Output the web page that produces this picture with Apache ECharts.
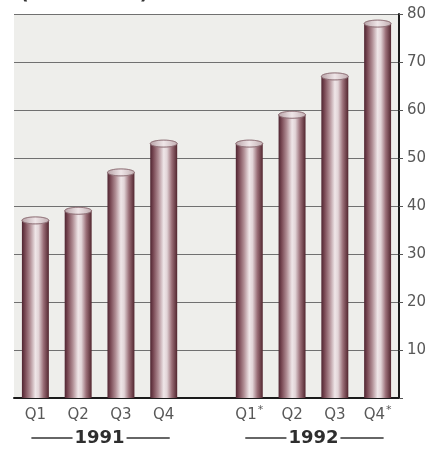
<!DOCTYPE html>
<html>
<head>
<meta charset="utf-8">
<style>
  html, body { margin: 0; padding: 0; background: #ffffff; }
  #chart { width: 440px; height: 453px; }
</style>
<script src="https://cdn.jsdelivr.net/npm/echarts@6/dist/echarts.min.js"></script>
</head>
<body>
<div id="chart"></div>
<script>
// Quarterly figures, 1991 and 1992 (in millions); the empty slot separates the years
var categories = ['Q1', 'Q2', 'Q3', 'Q4', '', 'Q1*', 'Q2', 'Q3', 'Q4*'];
var values = [37, 39, 47, 53, null, 53, 59, 67, 78];
var yearLabels = ['1991', '1992'];
var yearSpans = [[0, 3], [5, 8]];
var yTicks = [10, 20, 30, 40, 50, 60, 70, 80];

var chart = echarts.init(document.getElementById('chart'), null, { renderer: 'canvas' });

var textColor = '#585858';
var fontFam = '"DejaVu Sans", "Noto Sans", sans-serif';

// Cylinder body: dark maroon edges with a pale highlight just right of centre
var bodyGradient = new echarts.graphic.LinearGradient(0, 0, 1, 0, [
  { offset: 0.00, color: '#4e2430' },
  { offset: 0.12, color: '#7a4a55' },
  { offset: 0.30, color: '#b08d94' },
  { offset: 0.50, color: '#efe6e8' },
  { offset: 0.62, color: '#e2d4d7' },
  { offset: 0.80, color: '#9a6e77' },
  { offset: 1.00, color: '#52262f' }
]);
var capGradient = new echarts.graphic.LinearGradient(0, 0, 1, 0, [
  { offset: 0.0, color: '#b8a2a7' },
  { offset: 0.5, color: '#efe6e8' },
  { offset: 1.0, color: '#c2aeb2' }
]);

var seriesData = [];
values.forEach(function (v, i) {
  if (v !== null) seriesData.push([i, v]);
});

function renderCylinder(params, api) {
  var idx = api.value(0);
  var val = api.value(1);
  var top = api.coord([idx, val]);
  var bottom = api.coord([idx, 0]);
  var w = api.size([1, 0])[0] * 0.63;
  var x = top[0] - w / 2;
  var ry = 3.5;
  return {
    type: 'group',
    children: [
      {
        type: 'rect',
        shape: { x: x, y: top[1], width: w, height: bottom[1] - top[1] },
        style: { fill: bodyGradient }
      },
      {
        type: 'ellipse',
        shape: { cx: top[0], cy: top[1], rx: w / 2, ry: ry },
        style: { fill: capGradient, stroke: '#8a6a70', lineWidth: 0.6 }
      }
    ]
  };
}

var option = {
  backgroundColor: '#ffffff',
  animation: false,
  grid: {
    left: 14, right: 41, top: 14, bottom: 55,
    show: true, backgroundColor: '#eeeeeb', borderWidth: 0
  },
  xAxis: {
    type: 'category',
    data: categories,
    axisLine: { show: true, lineStyle: { color: '#1a1a1a', width: 2 } },
    axisTick: { show: false },
    axisLabel: {
      interval: 0,
      margin: 7,
      formatter: function (v) {
        if (v.indexOf('*') >= 0) return '{q|' + v.replace('*', '') + '}{sup|*}';
        return '{q|' + v + '}';
      },
      rich: {
        q: { fontSize: 15, lineHeight: 20, color: textColor, fontFamily: fontFam },
        sup: { fontSize: 11, lineHeight: 20, color: textColor, fontFamily: fontFam,
               verticalAlign: 'top', padding: [0, 0, 0, 1] }
      }
    }
  },
  yAxis: {
    type: 'value',
    position: 'right',
    min: 0, max: 80, interval: 10,
    axisLine: { show: true, lineStyle: { color: '#1a1a1a', width: 2 } },
    axisTick: { show: true, inside: false, length: 4, lineStyle: { color: '#555' } },
    axisLabel: {
      margin: 8,
      color: textColor,
      fontFamily: fontFam,
      fontSize: 15,
      formatter: function (v) { return yTicks.indexOf(v) >= 0 ? String(v) : ''; }
    },
    splitLine: { show: true, lineStyle: { color: '#707070', width: 1 } }
  },
  series: [{
    type: 'custom',
    renderItem: renderCylinder,
    data: seriesData,
    encode: { x: 0, y: 1 },
    z: 5
  }]
};

chart.setOption(option);

// Year captions under each group of quarters, flanked by rules
var graphics = [
  {
    type: 'text',
    left: 20, top: -15,
    style: {
      text: '(In millions)',
      font: 'bold 19px ' + fontFam,
      fill: '#333333'
    }
  }
];
yearSpans.forEach(function (span, k) {
  var x0 = chart.convertToPixel({ xAxisIndex: 0 }, span[0]);
  var x1 = chart.convertToPixel({ xAxisIndex: 0 }, span[1]);
  var cx = (x0 + x1) / 2;
  var y = 438;
  graphics.push({
    type: 'text',
    x: cx, y: y,
    style: {
      text: yearLabels[k],
      font: 'bold 18px ' + fontFam,
      fill: '#2e2e2e',
      align: 'center',
      verticalAlign: 'middle'
    }
  });
  graphics.push({
    type: 'line',
    shape: { x1: x0 - 4, y1: y, x2: cx - 27, y2: y },
    style: { stroke: '#333', lineWidth: 1.5 }
  });
  graphics.push({
    type: 'line',
    shape: { x1: cx + 27, y1: y, x2: x1 + 6, y2: y },
    style: { stroke: '#333', lineWidth: 1.5 }
  });
});
chart.setOption({ graphic: graphics });
</script>
</body>
</html>
